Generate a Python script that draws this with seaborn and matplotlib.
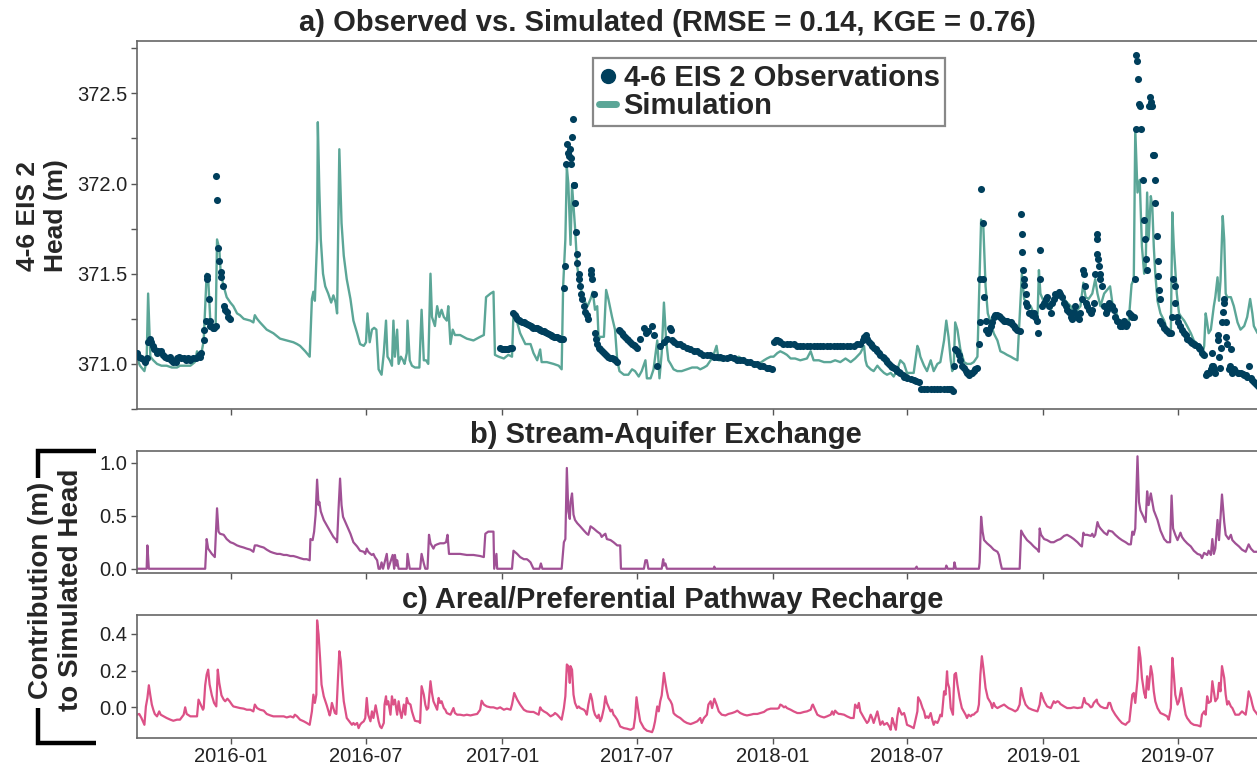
import numpy as np
import pandas as pd
import matplotlib
matplotlib.use("Agg")
import matplotlib.pyplot as plt
import matplotlib.dates as mdates
from matplotlib.lines import Line2D
from matplotlib.ticker import MultipleLocator, FormatStrFormatter
import seaborn as sns

# ---------------- data (day = days since START) ----------------
START = "2015-08-27"

sim = [(0, 371.03), (4, 370.99), (10, 370.96), (13, 371.02), (15, 371.39), (18, 371.04), (22, 371.02),
       (27, 371.00), (33, 370.99), (40, 370.99), (47, 370.98), (54, 370.98), (58, 370.99), (65, 370.99),
       (72, 370.99), (78, 371.01), (81, 371.07), (84, 371.04), (87, 371.06), (90, 371.13), (94, 371.50),
       (96, 371.48), (99, 371.23), (103, 371.21), (106, 371.19), (108, 371.69), (111, 371.64), (113, 371.50),
       (117, 371.43), (121, 371.37), (126, 371.34), (130, 371.32), (135, 371.28), (139, 371.27), (144, 371.25),
       (153, 371.24), (157, 371.23), (159, 371.27), (162, 371.25), (166, 371.23), (175, 371.19), (184, 371.17),
       (193, 371.14), (202, 371.13), (211, 371.12), (216, 371.11), (220, 371.10), (227, 371.07), (233, 371.04),
       (236, 371.36), (238, 371.40), (240, 371.35), (243, 371.69), (244, 372.34), (246, 371.97), (248, 371.69),
       (251, 371.50), (254, 371.43), (258, 371.39), (262, 371.34), (265, 371.38), (268, 371.34), (270, 371.28),
       (273, 372.19), (276, 371.78), (279, 371.60), (283, 371.47), (288, 371.36), (292, 371.24), (297, 371.17),
       (301, 371.11), (306, 371.10), (309, 371.12), (311, 371.28), (314, 371.12), (317, 371.19), (320, 371.20),
       (323, 371.19), (326, 370.97), (330, 370.94), (333, 371.06), (336, 371.24), (338, 371.04), (341, 371.02),
       (344, 370.99), (346, 371.24), (348, 371.04), (351, 371.19), (353, 371.00), (356, 371.04), (359, 371.02),
       (361, 371.00), (364, 371.06), (365, 371.24), (368, 371.02), (371, 370.99), (375, 370.98), (381, 370.98),
       (384, 371.30), (387, 371.02), (390, 371.02), (393, 371.00), (396, 371.50), (398, 371.26), (402, 371.21),
       (405, 371.32), (408, 371.26), (411, 371.30), (414, 371.26), (418, 371.24), (420, 371.32), (423, 371.11),
       (426, 371.19), (429, 371.16), (436, 371.16), (445, 371.14), (454, 371.13), (463, 371.15), (468, 371.16),
       (471, 371.37), (477, 371.39), (481, 371.40), (483, 371.05), (488, 371.04), (495, 371.03), (501, 371.05),
       (506, 371.04), (508, 371.28), (513, 371.23), (517, 371.17), (524, 371.11), (531, 371.11), (535, 371.06),
       (540, 371.02), (544, 371.08), (546, 371.01), (553, 371.01), (562, 371.00), (569, 370.99), (573, 370.97),
       (575, 371.43), (578, 371.69), (580, 372.09), (582, 372.00), (585, 371.66), (587, 371.99), (591, 371.76),
       (594, 371.54), (598, 371.43), (602, 371.37), (605, 371.34), (608, 371.32), (612, 371.36), (615, 371.40),
       (618, 371.30), (621, 371.32), (623, 371.13), (625, 371.15), (630, 371.15), (633, 371.41), (636, 371.36),
       (641, 371.26), (645, 371.19), (648, 371.02), (651, 370.96), (657, 370.94), (663, 370.94), (668, 370.97),
       (672, 370.96), (677, 370.93), (681, 370.96), (686, 371.02), (688, 370.92), (693, 370.92), (697, 370.97),
       (702, 371.13), (705, 370.92), (708, 371.06), (711, 371.34), (714, 371.13), (717, 371.02), (720, 371.00),
       (724, 370.97), (729, 370.96), (735, 370.96), (742, 370.97), (749, 370.98), (756, 370.98), (760, 370.97),
       (765, 370.98), (769, 370.99), (774, 371.02), (778, 371.05), (782, 371.10), (785, 371.02), (789, 371.02),
       (796, 371.03), (805, 371.02), (812, 371.04), (819, 371.02), (825, 371.01), (832, 371.01), (839, 371.00),
       (846, 371.02), (850, 371.03), (855, 371.04), (859, 371.04), (864, 371.06), (868, 371.07), (873, 371.06),
       (877, 371.05), (882, 371.03), (888, 371.03), (895, 371.02), (904, 371.03), (909, 371.07), (913, 371.02),
       (920, 371.02), (927, 371.01), (936, 371.01), (942, 371.02), (949, 371.01), (956, 371.03), (963, 371.01),
       (969, 371.03), (976, 371.06), (981, 371.10), (983, 371.02), (985, 370.99), (990, 370.97), (994, 370.96),
       (999, 370.99), (1003, 370.97), (1008, 370.95), (1012, 370.94), (1017, 370.95), (1021, 370.93),
       (1026, 370.97), (1030, 371.02), (1035, 371.00), (1039, 370.95), (1048, 370.95), (1053, 371.10),
       (1055, 371.08), (1057, 371.04), (1062, 370.99), (1066, 370.96), (1071, 371.02), (1075, 370.96),
       (1080, 371.00), (1084, 371.01), (1089, 371.13), (1092, 371.24), (1095, 371.15), (1098, 371.02),
       (1100, 370.96), (1102, 370.98), (1104, 371.23), (1107, 371.19), (1111, 371.08), (1116, 371.01),
       (1120, 371.00), (1125, 371.00), (1129, 371.01), (1134, 371.04), (1137, 371.50), (1139, 371.80),
       (1142, 371.76), (1145, 371.43), (1148, 371.28), (1152, 371.23), (1156, 371.17), (1161, 371.13),
       (1165, 371.07), (1170, 371.06), (1174, 371.05), (1179, 371.04), (1183, 371.03), (1188, 371.02),
       (1191, 371.26), (1194, 371.50), (1197, 371.36), (1201, 371.34), (1206, 371.32), (1210, 371.28),
       (1215, 371.24), (1217, 371.52), (1219, 371.39), (1224, 371.34), (1228, 371.36), (1233, 371.30),
       (1237, 371.34), (1242, 371.39), (1246, 371.39), (1251, 371.36), (1255, 371.34), (1260, 371.32),
       (1264, 371.28), (1269, 371.30), (1273, 371.32), (1277, 371.45), (1280, 371.37), (1284, 371.36),
       (1289, 371.39), (1293, 371.47), (1296, 371.39), (1300, 371.32), (1305, 371.39), (1309, 371.41),
       (1313, 371.43), (1316, 371.34), (1320, 371.30), (1325, 371.24), (1329, 371.23), (1334, 371.21),
       (1338, 371.23), (1342, 371.44), (1345, 371.47), (1347, 372.30), (1350, 371.95), (1353, 372.02),
       (1356, 371.65), (1359, 371.50), (1361, 371.54), (1363, 371.95), (1365, 371.69), (1368, 371.93),
       (1370, 371.87), (1372, 371.65), (1374, 371.50), (1377, 371.35), (1381, 371.28), (1386, 371.24),
       (1390, 371.19), (1395, 371.17), (1397, 371.84), (1399, 371.65), (1403, 371.39), (1406, 371.28),
       (1409, 371.26), (1413, 371.24), (1417, 371.21), (1422, 371.17), (1426, 371.13), (1431, 371.11),
       (1435, 371.10), (1437, 371.04), (1440, 371.10), (1442, 371.28), (1444, 371.23), (1446, 371.17),
       (1449, 371.19), (1453, 371.32), (1455, 371.37), (1458, 371.48), (1460, 371.35), (1462, 371.46),
       (1465, 371.82), (1467, 371.69), (1469, 371.39), (1471, 371.37), (1476, 371.37), (1480, 371.32),
       (1485, 371.23), (1489, 371.19), (1494, 371.21), (1498, 371.26), (1502, 371.36), (1505, 371.28),
       (1507, 371.21), (1512, 371.17)]

obs = [(0, 371.06), (3, 371.04), (6, 371.03), (9, 371.02), (11, 371.01), (13, 371.03), (15, 371.12),
       (17, 371.14), (19, 371.12), (21, 371.10), (23, 371.08), (27, 371.06), (29, 371.07), (32, 371.07),
       (35, 371.05), (38, 371.04), (41, 371.03), (44, 371.04), (46, 371.02), (49, 371.01), (52, 371.01),
       (54, 371.03), (57, 371.04), (60, 371.03), (63, 371.03), (66, 371.02), (69, 371.03), (72, 371.02),
       (76, 371.03), (80, 371.03), (83, 371.05), (85, 371.04), (87, 371.06), (90, 371.13), (91, 371.19),
       (93, 371.24), (94, 371.47), (95, 371.49), (97, 371.36), (98, 371.24), (99, 371.21), (100, 371.21),
       (102, 371.20), (104, 371.20), (106, 371.21), (107, 372.04), (108, 371.91), (109, 371.64), (111, 371.57),
       (113, 371.51), (114, 371.48), (116, 371.43), (117, 371.32), (119, 371.30), (121, 371.29), (123, 371.26),
       (126, 371.25),
       (490, 371.09), (493, 371.085), (495, 371.08), (497, 371.08), (499, 371.08), (501, 371.085),
       (503, 371.09), (506, 371.09), (508, 371.28), (510, 371.27), (512, 371.26),
       (513, 371.25), (515, 371.245), (517, 371.24), (520, 371.235), (522, 371.23), (524, 371.225),
       (526, 371.22), (529, 371.215), (531, 371.21), (533, 371.205), (535, 371.20), (538, 371.20),
       (540, 371.20), (542, 371.195), (544, 371.19), (547, 371.185), (549, 371.18), (551, 371.175),
       (553, 371.17), (556, 371.165), (558, 371.16), (560, 371.155), (562, 371.15), (565, 371.15),
       (567, 371.15), (569, 371.145), (571, 371.14), (573, 371.14),
       (575, 371.14), (576, 371.42), (578, 371.54), (579, 372.11), (580, 372.22), (581, 372.17), (583, 372.15),
       (584, 372.19), (585, 372.14), (586, 372.11), (587, 372.26), (588, 372.36), (589, 371.99), (590, 371.99),
       (591, 371.89), (593, 371.73), (594, 371.61), (594, 371.56), (596, 371.50), (597, 371.47), (598, 371.43),
       (599, 371.39), (601, 371.36), (603, 371.32), (605, 371.29), (607, 371.27), (609, 371.25), (612, 371.52),
       (613, 371.50), (614, 371.47), (616, 371.39), (618, 371.17), (620, 371.14), (621, 371.11), (623, 371.09),
       (625, 371.08), (627, 371.07), (630, 371.06), (633, 371.05), (636, 371.04), (638, 371.035),
       (641, 371.03), (643, 371.025), (645, 371.02),
       (648, 371.01), (650, 371.19), (652, 371.18), (654, 371.17), (656, 371.16), (659, 371.15),
       (661, 371.14), (663, 371.13), (665, 371.12), (668, 371.11), (670, 371.105), (672, 371.10),
       (675, 371.09), (679, 371.14), (684, 371.20), (687, 371.17), (690, 371.18), (695, 371.21), (697, 371.16),
       (702, 370.99), (706, 371.10), (711, 371.12), (715, 371.14), (719, 371.20), (721, 371.19), (722, 371.13),
       (724, 371.12), (728, 371.11), (733, 371.11), (737, 371.10), (742, 371.09), (746, 371.08),
       (751, 371.07), (755, 371.07), (760, 371.06), (764, 371.05), (769, 371.05), (773, 371.05),
       (778, 371.04), (782, 371.04), (787, 371.04), (791, 371.03), (796, 371.03), (800, 371.04),
       (805, 371.03), (809, 371.02), (814, 371.02), (818, 371.02), (823, 371.01), (827, 371.01),
       (832, 371.00), (836, 371.00), (841, 370.99), (845, 370.99), (850, 370.98), (853, 370.98),
       (857, 370.97), (859, 371.12), (862, 371.13), (864, 371.13), (866, 371.125), (868, 371.12),
       (872, 371.11), (877, 371.11), (881, 371.11), (886, 371.11), (890, 371.10),
       (895, 371.10), (899, 371.10), (904, 371.10), (908, 371.10), (913, 371.10), (917, 371.10),
       (922, 371.10), (926, 371.10), (931, 371.10), (935, 371.10), (940, 371.10), (944, 371.10),
       (949, 371.10), (953, 371.10), (958, 371.10), (962, 371.10), (967, 371.10), (971, 371.11),
       (976, 371.11), (979, 371.13), (981, 371.15), (983, 371.16), (985, 371.14), (988, 371.12),
       (990, 371.11), (992, 371.10),
       (994, 371.09), (997, 371.08), (999, 371.07), (1001, 371.06), (1003, 371.05), (1006, 371.04),
       (1008, 371.03), (1010, 371.02), (1012, 371.01), (1015, 371.00), (1017, 370.99),
       (1019, 370.985), (1021, 370.98), (1024, 370.97), (1026, 370.96), (1028, 370.955), (1030, 370.95),
       (1033, 370.94), (1035, 370.93), (1037, 370.925), (1039, 370.92), (1044, 370.915), (1048, 370.91),
       (1051, 370.905), (1055, 370.90), (1058, 370.86), (1062, 370.86), (1066, 370.86), (1071, 370.86),
       (1075, 370.86), (1080, 370.86), (1084, 370.86), (1089, 370.86), (1093, 370.86), (1096, 370.86),
       (1098, 370.86), (1101, 370.85), (1102, 370.99), (1104, 371.08), (1107, 371.07), (1109, 371.05),
       (1111, 371.02), (1113, 370.99), (1116, 370.98), (1118, 370.96), (1120, 370.95), (1122, 370.94),
       (1125, 370.95), (1127, 370.95), (1129, 370.96), (1131, 370.97), (1134, 370.98), (1136, 371.11),
       (1137, 371.23), (1138, 371.47), (1139, 371.97), (1141, 371.78), (1142, 371.47), (1143, 371.37),
       (1145, 371.24), (1146, 371.19), (1148, 371.17), (1149, 371.19), (1152, 371.21), (1154, 371.23),
       (1156, 371.26), (1158, 371.27), (1161, 371.27), (1163, 371.265), (1165, 371.26), (1167, 371.25),
       (1170, 371.24), (1172, 371.24), (1174, 371.24), (1176, 371.235), (1179, 371.23), (1181, 371.22),
       (1183, 371.21), (1185, 371.20), (1188, 371.19), (1191, 371.18), (1193, 371.83), (1194, 371.72), (1194, 371.62),
       (1196, 371.52), (1197, 371.47), (1197, 371.44), (1199, 371.39), (1200, 371.34), (1201, 371.32),
       (1203, 371.28), (1206, 371.28), (1208, 371.27), (1210, 371.28), (1212, 371.26), (1215, 371.24),
       (1216, 371.17), (1218, 371.63), (1219, 371.47), (1221, 371.32), (1224, 371.34), (1226, 371.36),
       (1228, 371.37), (1230, 371.32), (1233, 371.28), (1235, 371.34), (1237, 371.36), (1239, 371.39),
       (1242, 371.38), (1244, 371.40), (1246, 371.39), (1248, 371.37), (1251, 371.34), (1253, 371.32),
       (1255, 371.30), (1257, 371.29), (1260, 371.26), (1262, 371.25), (1264, 371.29), (1266, 371.32),
       (1269, 371.26), (1271, 371.25), (1273, 371.28), (1275, 371.36), (1277, 371.52), (1278, 371.50),
       (1279, 371.43), (1280, 371.34), (1282, 371.32), (1284, 371.30), (1287, 371.28), (1289, 371.30),
       (1291, 371.34), (1293, 371.50), (1295, 371.72), (1296, 371.69), (1296, 371.61), (1297, 371.58),
       (1298, 371.54), (1299, 371.50), (1300, 371.47), (1302, 371.43), (1305, 371.32), (1307, 371.28),
       (1309, 371.30), (1311, 371.34), (1314, 371.32), (1316, 371.32), (1318, 371.30), (1320, 371.26),
       (1323, 371.24), (1325, 371.23), (1327, 371.21), (1329, 371.21), (1332, 371.24), (1334, 371.21),
       (1336, 371.22), (1338, 371.28), (1341, 371.27), (1343, 371.26), (1345, 371.26), (1346, 371.47),
       (1348, 372.30), (1348, 372.71), (1350, 372.68), (1351, 372.58), (1352, 372.44), (1353, 372.43),
       (1355, 372.30), (1357, 372.02), (1359, 371.80), (1360, 371.69), (1361, 371.58), (1363, 371.52),
       (1365, 372.43), (1367, 372.48), (1368, 372.43), (1368, 372.45), (1370, 372.43), (1371, 372.16),
       (1372, 372.16), (1373, 372.02), (1374, 371.89), (1376, 371.71), (1377, 371.57), (1378, 371.49),
       (1379, 371.41), (1380, 371.36), (1381, 371.24), (1383, 371.22), (1386, 371.20), (1388, 371.19),
       (1390, 371.18), (1392, 371.17), (1395, 371.17), (1397, 371.26), (1398, 371.47), (1400, 371.43),
       (1401, 371.34), (1403, 371.26), (1404, 371.23), (1407, 371.21), (1410, 371.19), (1413, 371.17),
       (1415, 371.16), (1417, 371.14), (1420, 371.13), (1422, 371.12), (1424, 371.115), (1426, 371.11),
       (1428, 371.105), (1431, 371.10), (1433, 371.09), (1435, 371.08),
       (1437, 371.06), (1440, 371.05), (1442, 370.94), (1444, 370.95), (1446, 370.95), (1449, 370.97),
       (1450, 371.06), (1451, 370.99), (1452, 370.99), (1453, 370.97), (1455, 370.95), (1458, 371.16),
       (1459, 371.13), (1460, 371.04), (1461, 370.98), (1463, 371.09), (1464, 371.23), (1465, 371.29),
       (1467, 371.34), (1467, 371.36), (1469, 371.23), (1470, 371.15), (1471, 371.11), (1473, 370.97),
       (1475, 370.99), (1476, 371.08), (1477, 370.95), (1480, 370.97), (1482, 370.96), (1485, 370.95),
       (1487, 370.95), (1489, 370.95), (1492, 370.945), (1494, 370.94), (1496, 370.94), (1498, 370.93),
       (1500, 370.99), (1503, 370.92), (1505, 370.91), (1507, 370.90), (1510, 370.89), (1512, 370.88)]

stream = [(0, 0.0), (13, 0.0), (14, 0.22), (16, 0.0), (92, 0.0), (94, 0.28), (96, 0.19), (101, 0.14),
          (105, 0.11), (108, 0.57), (110, 0.35), (112, 0.33), (117, 0.32), (121, 0.28), (126, 0.25),
          (130, 0.24), (135, 0.22), (139, 0.21), (144, 0.20), (148, 0.19), (153, 0.18), (157, 0.16),
          (159, 0.22), (162, 0.22), (166, 0.21), (171, 0.20), (175, 0.18), (180, 0.16), (184, 0.15),
          (189, 0.14), (193, 0.14), (198, 0.13), (202, 0.13), (207, 0.12), (211, 0.12), (216, 0.11),
          (220, 0.10), (225, 0.09), (229, 0.09), (233, 0.08), (234, 0.28), (237, 0.27), (239, 0.35),
          (241, 0.51), (243, 0.84), (245, 0.60), (246, 0.63), (248, 0.54), (252, 0.46), (256, 0.41),
          (261, 0.35), (265, 0.30), (269, 0.27), (270, 0.25), (272, 0.57), (274, 0.85), (276, 0.60),
          (278, 0.49), (283, 0.41), (288, 0.33), (292, 0.25), (297, 0.21), (301, 0.17), (306, 0.16),
          (308, 0.14), (310, 0.19), (312, 0.16), (315, 0.14), (317, 0.13), (319, 0.14), (321, 0.11),
          (324, 0.08), (326, 0.0), (328, 0.0), (330, 0.06), (332, 0.0), (337, 0.14), (339, 0.0),
          (345, 0.13), (347, 0.0), (348, 0.13), (350, 0.03), (351, 0.08), (353, 0.0), (364, 0.0),
          (365, 0.14), (368, 0.0), (382, 0.0), (384, 0.14), (387, 0.05), (389, 0.0), (392, 0.0),
          (394, 0.32), (396, 0.24), (400, 0.19), (402, 0.22), (405, 0.23), (409, 0.24), (414, 0.24),
          (417, 0.25), (419, 0.32), (421, 0.14), (425, 0.14), (436, 0.14), (445, 0.13), (454, 0.13),
          (463, 0.12), (468, 0.11), (470, 0.33), (474, 0.35), (481, 0.35), (482, 0.0), (485, 0.14),
          (486, 0.0), (506, 0.0), (508, 0.17), (513, 0.14), (517, 0.11), (522, 0.09), (526, 0.09),
          (528, 0.08), (531, 0.06), (535, 0.0), (543, 0.0), (545, 0.05), (547, 0.0), (573, 0.0),
          (576, 0.25), (578, 0.28), (580, 0.95), (582, 0.54), (584, 0.47), (585, 0.63), (587, 0.71),
          (589, 0.51), (591, 0.46), (594, 0.43), (598, 0.40), (603, 0.36), (607, 0.33), (609, 0.32),
          (612, 0.40), (616, 0.38), (621, 0.35), (625, 0.33), (627, 0.30), (630, 0.32), (632, 0.33),
          (634, 0.28), (639, 0.27), (643, 0.25), (648, 0.22), (652, 0.22), (653, 0.0), (684, 0.0),
          (686, 0.08), (688, 0.08), (690, 0.0), (708, 0.0), (710, 0.09), (711, 0.03), (713, 0.05),
          (715, 0.0), (778, 0.0), (779, 0.02), (780, 0.0), (1050, 0.0), (1052, 0.02), (1053, 0.0),
          (1091, 0.0), (1092, 0.03), (1094, 0.0), (1102, 0.0), (1103, 0.06), (1105, 0.0), (1136, 0.0),
          (1137, 0.06), (1139, 0.49), (1141, 0.35), (1143, 0.27), (1147, 0.24), (1152, 0.21), (1156, 0.18),
          (1161, 0.16), (1163, 0.13), (1165, 0.06), (1167, 0.0), (1191, 0.0), (1193, 0.36), (1196, 0.32),
          (1201, 0.27), (1206, 0.24), (1210, 0.21), (1215, 0.18), (1217, 0.16), (1218, 0.38), (1220, 0.32),
          (1224, 0.28), (1228, 0.27), (1233, 0.25), (1237, 0.25), (1242, 0.27), (1246, 0.28), (1251, 0.31),
          (1255, 0.32), (1260, 0.30), (1264, 0.28), (1269, 0.25), (1273, 0.22), (1275, 0.21), (1277, 0.34),
          (1278, 0.32), (1282, 0.32), (1287, 0.31), (1289, 0.33), (1291, 0.30), (1293, 0.32), (1296, 0.44),
          (1298, 0.40), (1300, 0.38), (1305, 0.34), (1309, 0.32), (1311, 0.36), (1316, 0.35), (1320, 0.32),
          (1325, 0.29), (1329, 0.27), (1334, 0.25), (1338, 0.23), (1341, 0.23), (1343, 0.35), (1345, 0.32),
          (1347, 0.38), (1350, 1.06), (1352, 0.63), (1354, 0.55), (1358, 0.49), (1361, 0.44), (1363, 0.73),
          (1365, 0.60), (1368, 0.71), (1370, 0.63), (1372, 0.55), (1377, 0.46), (1381, 0.36), (1386, 0.28),
          (1390, 0.25), (1394, 0.25), (1396, 0.69), (1398, 0.38), (1401, 0.32), (1404, 0.27), (1408, 0.34),
          (1410, 0.30), (1413, 0.27), (1417, 0.24), (1422, 0.21), (1426, 0.17), (1431, 0.14), (1435, 0.13),
          (1437, 0.10), (1440, 0.15), (1442, 0.14), (1444, 0.13), (1446, 0.17), (1449, 0.13), (1451, 0.28),
          (1453, 0.14), (1455, 0.19), (1458, 0.46), (1460, 0.27), (1464, 0.70), (1467, 0.44), (1469, 0.32),
          (1473, 0.28), (1476, 0.32), (1478, 0.27), (1482, 0.24), (1487, 0.21), (1491, 0.18), (1496, 0.16),
          (1500, 0.23), (1503, 0.19), (1507, 0.16), (1512, 0.16)]

recharge = [(0, -0.040), (3, -0.036), (6, -0.058), (10, -0.095), (12, 0.005), (14, 0.050), (16, 0.120),
            (18, 0.065), (20, 0.015), (22, -0.013), (24, -0.036), (27, -0.049), (30, -0.022), (32, -0.040),
            (36, -0.049), (40, -0.058), (45, -0.067), (49, -0.073), (54, -0.067), (58, -0.067), (63, -0.040),
            (65, 0.000), (67, -0.036), (72, -0.049), (76, -0.049), (81, -0.049), (83, 0.042), (85, 0.024),
            (89, -0.013), (90, -0.004), (92, 0.120), (94, 0.178), (96, 0.205), (98, 0.124), (101, 0.065),
            (104, 0.024), (107, 0.005), (109, 0.205), (111, 0.133), (114, 0.065), (117, 0.042), (119, 0.033),
            (122, 0.047), (125, 0.033), (128, 0.015), (130, 0.005), (135, 0.000), (139, -0.004), (144, -0.007),
            (148, -0.013), (153, -0.013), (157, -0.022), (159, 0.015), (162, -0.004), (166, -0.013),
            (171, -0.018), (175, -0.036), (180, -0.044), (184, -0.049), (189, -0.049), (193, -0.049),
            (198, -0.049), (202, -0.055), (207, -0.049), (211, -0.055), (213, -0.040), (216, -0.049),
            (220, -0.067), (225, -0.076), (229, -0.085), (233, -0.095), (236, -0.022), (238, 0.069),
            (240, 0.024), (242, 0.069), (243, 0.473), (245, 0.396), (247, 0.269), (249, 0.124), (252, 0.060),
            (256, 0.011), (260, -0.044), (261, -0.031), (263, 0.024), (265, -0.004), (267, -0.031),
            (269, -0.036), (271, 0.142), (273, 0.305), (275, 0.251), (277, 0.124), (279, 0.033), (283, -0.058),
            (288, -0.085), (290, -0.095), (292, -0.085), (294, -0.095), (297, -0.085), (299, -0.113),
            (301, -0.095), (303, -0.085), (306, -0.076), (308, -0.058), (310, 0.051), (312, -0.040),
            (315, -0.076), (317, -0.022), (319, -0.058), (322, 0.011), (324, -0.031), (326, -0.076),
            (328, -0.104), (330, -0.113), (333, -0.085), (334, 0.015), (336, 0.060), (337, 0.015), (339, 0.033),
            (342, -0.040), (344, 0.060), (346, 0.015), (348, 0.042), (351, -0.040), (353, 0.033), (355, -0.022),
            (357, -0.058), (360, 0.015), (362, -0.040), (364, 0.051), (366, 0.024), (369, 0.015), (371, -0.022),
            (373, -0.049), (375, -0.073), (378, -0.076), (380, -0.076), (382, -0.085), (384, 0.115),
            (387, 0.069), (389, 0.015), (391, -0.013), (393, -0.004), (396, 0.142), (398, 0.078), (400, 0.033),
            (402, 0.015), (405, -0.013), (407, 0.051), (409, 0.024), (411, 0.033), (414, -0.004), (416, -0.013),
            (418, -0.031), (423, -0.040), (427, -0.004), (429, -0.031), (432, -0.040), (436, -0.040),
            (441, -0.044), (445, -0.040), (450, -0.044), (454, -0.040), (459, -0.036), (463, -0.013),
            (465, 0.036), (468, 0.015), (472, 0.005), (477, 0.000), (481, 0.000), (486, -0.007), (490, 0.000),
            (495, -0.013), (499, -0.007), (504, -0.013), (506, 0.015), (509, 0.078), (513, 0.042), (517, 0.015),
            (522, -0.013), (526, -0.022), (531, -0.025), (535, -0.025), (540, -0.036), (542, -0.040),
            (544, 0.000), (546, -0.013), (549, -0.022), (553, -0.031), (558, -0.049), (562, -0.040),
            (564, -0.031), (567, -0.040), (571, -0.058), (573, -0.067), (576, -0.004), (578, 0.060),
            (580, 0.233), (582, 0.224), (584, 0.133), (585, 0.224), (587, 0.205), (589, 0.069), (591, 0.024),
            (594, -0.004), (596, 0.005), (598, -0.004), (603, -0.013), (605, -0.022), (607, -0.040),
            (609, 0.015), (612, 0.073), (614, 0.042), (616, -0.013), (618, -0.040), (621, -0.058),
            (623, -0.040), (625, -0.076), (627, -0.058), (630, -0.004), (632, 0.060), (634, 0.024),
            (636, 0.005), (639, -0.022), (641, -0.013), (643, -0.040), (645, -0.049), (648, -0.067),
            (652, -0.104), (657, -0.113), (661, -0.116), (666, -0.122), (670, -0.113), (672, -0.058),
            (674, 0.055), (676, -0.004), (679, -0.076), (684, -0.113), (688, -0.127), (692, -0.131),
            (695, -0.135), (697, -0.113), (699, -0.076), (702, 0.005), (704, -0.022), (706, 0.033),
            (708, 0.065), (711, 0.187), (713, 0.133), (715, 0.087), (717, 0.051), (720, 0.033), (722, 0.015),
            (724, -0.031), (726, -0.040), (729, -0.049), (733, -0.058), (738, -0.076), (742, -0.085),
            (747, -0.091), (751, -0.085), (756, -0.076), (760, -0.058), (762, -0.085), (765, -0.058),
            (769, -0.040), (771, 0.015), (774, 0.033), (776, -0.004), (779, 0.047), (782, 0.015),
            (785, -0.022), (789, -0.040), (794, -0.044), (798, -0.036), (803, -0.031), (807, -0.025),
            (810, -0.018), (814, -0.031), (819, -0.040), (823, -0.044), (828, -0.040), (832, -0.036),
            (837, -0.036), (841, -0.031), (846, -0.025), (850, -0.013), (855, -0.007), (859, -0.007),
            (864, -0.007), (866, -0.004), (868, 0.015), (870, 0.011), (873, 0.000), (875, 0.005), (877, -0.004),
            (882, -0.013), (886, -0.022), (891, -0.031), (895, -0.031), (900, -0.025), (904, -0.022),
            (909, -0.013), (911, 0.011), (912, 0.015), (914, -0.004), (918, -0.040), (922, -0.049),
            (927, -0.055), (931, -0.049), (936, -0.040), (938, -0.022), (940, -0.040), (942, -0.018),
            (945, -0.031), (947, -0.036), (949, -0.036), (954, -0.040), (958, -0.049), (963, -0.058),
            (967, -0.058), (969, 0.015), (972, -0.004), (974, 0.024), (976, -0.022), (981, -0.058),
            (985, -0.085), (987, -0.076), (990, -0.040), (992, -0.058), (994, -0.085), (999, -0.022),
            (1001, -0.058), (1003, -0.095), (1006, -0.076), (1008, -0.095), (1012, -0.085), (1015, -0.104),
            (1017, -0.122), (1019, -0.058), (1021, -0.085), (1024, -0.122), (1026, -0.049), (1028, -0.004),
            (1030, -0.022), (1032, -0.040), (1035, -0.031), (1037, -0.058), (1039, -0.095), (1044, -0.104),
            (1048, -0.113), (1053, -0.022), (1054, 0.055), (1057, 0.033), (1060, -0.004), (1062, -0.022),
            (1064, -0.058), (1066, -0.049), (1068, -0.058), (1071, -0.031), (1073, -0.067), (1075, -0.095),
            (1077, -0.076), (1080, -0.085), (1082, -0.067), (1084, -0.040), (1086, -0.049), (1089, 0.087),
            (1091, 0.069), (1093, 0.196), (1094, 0.133), (1096, 0.105), (1098, -0.004), (1101, -0.040),
            (1102, 0.087), (1103, 0.178), (1105, 0.187), (1107, 0.124), (1110, 0.051), (1113, -0.004),
            (1118, -0.040), (1120, -0.058), (1122, -0.040), (1125, -0.049), (1127, -0.040), (1129, -0.040),
            (1131, -0.031), (1134, -0.022), (1136, 0.015), (1138, 0.178), (1140, 0.278), (1142, 0.215),
            (1145, 0.105), (1148, 0.051), (1152, 0.024), (1154, -0.004), (1156, 0.024), (1158, 0.005),
            (1161, -0.004), (1165, 0.005), (1170, 0.015), (1173, 0.005), (1176, -0.004), (1181, -0.013),
            (1185, -0.022), (1188, -0.013), (1191, 0.015), (1193, 0.105), (1196, 0.051), (1199, 0.015),
            (1203, -0.004), (1208, -0.013), (1215, -0.022), (1218, 0.015), (1220, 0.078), (1224, 0.033),
            (1228, 0.005), (1233, -0.004), (1235, 0.015), (1237, 0.033), (1239, 0.024), (1242, 0.033),
            (1244, 0.029), (1246, 0.018), (1251, 0.005), (1255, -0.004), (1260, -0.004), (1264, 0.000),
            (1269, -0.004), (1275, 0.000), (1278, 0.051), (1280, 0.024), (1284, 0.015), (1287, 0.000),
            (1289, 0.005), (1291, 0.024), (1295, 0.042), (1296, 0.024), (1300, 0.005), (1305, -0.004),
            (1309, -0.004), (1311, 0.024), (1313, 0.024), (1316, -0.013), (1320, -0.040), (1325, -0.067),
            (1329, -0.085), (1334, -0.095), (1336, -0.085), (1339, -0.076), (1343, 0.069), (1345, 0.078),
            (1347, 0.024), (1350, 0.151), (1352, 0.327), (1354, 0.269), (1356, 0.160), (1359, 0.078),
            (1361, 0.051), (1363, 0.169), (1365, 0.096), (1368, 0.224), (1370, 0.178), (1372, 0.087),
            (1374, 0.033), (1377, -0.004), (1381, -0.031), (1386, -0.040), (1390, -0.049), (1392, -0.067),
            (1395, -0.004), (1397, 0.269), (1399, 0.178), (1401, 0.069), (1404, 0.015), (1406, 0.033),
            (1409, 0.105), (1413, 0.005), (1415, -0.040), (1417, -0.058), (1422, -0.085), (1426, -0.095),
            (1431, -0.098), (1435, -0.104), (1437, -0.040), (1440, -0.022), (1442, -0.040), (1444, 0.060),
            (1446, 0.024), (1449, 0.033), (1451, 0.142), (1453, 0.087), (1455, 0.033), (1458, 0.051),
            (1460, 0.133), (1462, 0.087), (1464, 0.224), (1467, 0.160), (1469, 0.069), (1471, 0.015),
            (1473, 0.033), (1476, 0.005), (1478, -0.004), (1482, -0.040), (1487, -0.040), (1491, -0.022),
            (1496, -0.040), (1498, 0.015), (1500, 0.087), (1503, 0.051), (1505, 0.015), (1507, -0.013),
            (1512, -0.040)]

TITLE_A = "a) Observed vs. Simulated (RMSE = 0.14, KGE = 0.76)"
TITLE_B = "b) Stream-Aquifer Exchange"
TITLE_C = "c) Areal/Preferential Pathway Recharge"
YLABEL_A = "4-6 EIS 2\nHead (m)"
YLABEL_BC = "Contribution (m)\nto Simulated Head"
LEGEND_LABELS = ["4-6 EIS 2 Observations", "Simulation"]
X_RANGE = ("2015-08-27", "2019-10-23")

OBS_C = "#003f5c"
SIM_C = "#5ba697"
STREAM_C = "#a05195"
RECH_C = "#dc5187"


def to_frame(points, col):
    d, v = zip(*points)
    return pd.DataFrame({"date": pd.Timestamp(START) + pd.to_timedelta(list(d), unit="D"),
                         col: list(v)})


sim_df = to_frame(sim, "head")
obs_df = to_frame(obs, "head")
stream_df = to_frame(stream, "contrib")
rech_df = to_frame(recharge, "contrib")

# ---------------- styling ----------------
sns.set_style("ticks")
plt.rcParams["font.family"] = ["Liberation Sans", "DejaVu Sans"]

W, H = 1257, 766
fig = plt.figure(figsize=(W / 100, H / 100), dpi=100)


def px_axes(left, top, right, bottom):
    return fig.add_axes([left / W, 1 - bottom / H, (right - left) / W, (bottom - top) / H])


ax_a = px_axes(137, 41, 1262, 409)
ax_b = px_axes(137, 451, 1262, 573)
ax_c = px_axes(137, 615, 1262, 737.5)

sns.lineplot(data=sim_df, x="date", y="head", ax=ax_a, color=SIM_C, lw=1.7,
             estimator=None, sort=False, zorder=2)
sns.scatterplot(data=obs_df, x="date", y="head", ax=ax_a, color=OBS_C, s=26,
                linewidth=0, zorder=3)
sns.lineplot(data=stream_df, x="date", y="contrib", ax=ax_b, color=STREAM_C, lw=1.6,
             estimator=None, sort=False)
sns.lineplot(data=rech_df, x="date", y="contrib", ax=ax_c, color=RECH_C, lw=1.6,
             estimator=None, sort=False)

ax_a.set_ylim(370.75, 372.79)
ax_b.set_ylim(-0.04, 1.11)
ax_c.set_ylim(-0.164, 0.502)

ax_a.yaxis.set_major_locator(MultipleLocator(0.5))
ax_a.yaxis.set_minor_locator(MultipleLocator(0.25))
ax_a.yaxis.set_major_formatter(FormatStrFormatter("%.1f"))
ax_b.set_yticks([0.0, 0.5, 1.0])
ax_b.yaxis.set_major_formatter(FormatStrFormatter("%.1f"))
ax_c.set_yticks([0.0, 0.2, 0.4])
ax_c.yaxis.set_major_formatter(FormatStrFormatter("%.1f"))

for ax in (ax_a, ax_b, ax_c):
    ax.set_xlim(pd.Timestamp(X_RANGE[0]), pd.Timestamp(X_RANGE[1]))
    ax.xaxis.set_major_locator(mdates.MonthLocator(bymonth=(1, 7)))
    ax.xaxis.set_major_formatter(mdates.DateFormatter("%Y-%m"))
    ax.set_xlabel("")
    ax.set_ylabel("")
    ax.tick_params(axis="both", which="both", direction="out", length=4, width=1,
                   color="#555555", labelsize=14.5, labelcolor="#222222", pad=3)
    for sp in ax.spines.values():
        sp.set_visible(True)
        sp.set_color("#666666")
        sp.set_linewidth(1.2)
    ax.set_facecolor("white")

ax_a.tick_params(axis="x", labelbottom=False)
ax_b.tick_params(axis="x", labelbottom=False)

# titles
fig.text(667 / W, 1 - 31 / H, TITLE_A, ha="center", va="baseline", fontsize=21, fontweight="bold")
fig.text(666 / W, 1 - 443 / H, TITLE_B, ha="center", va="baseline", fontsize=21, fontweight="bold")
fig.text(673 / W, 1 - 608 / H, TITLE_C, ha="center", va="baseline", fontsize=21, fontweight="bold")

# y labels
fig.text(42 / W, 1 - 216 / H, YLABEL_A, rotation=90, ha="center", va="center",
         multialignment="center", fontsize=19, fontweight="bold")
fig.text(56 / W, 1 - 590 / H, YLABEL_BC, rotation=90, ha="center", va="center",
         multialignment="center", fontsize=20, fontweight="bold")

# bracket
fig.add_artist(Line2D([96 / W, 38 / W, 38 / W], [1 - 451 / H, 1 - 451 / H, 1 - 478 / H],
                      transform=fig.transFigure, color="black", lw=3.2,
                      solid_joinstyle="miter", solid_capstyle="butt"))
fig.add_artist(Line2D([38 / W, 38 / W, 96 / W], [1 - 708 / H, 1 - 743 / H, 1 - 743 / H],
                      transform=fig.transFigure, color="black", lw=3.2,
                      solid_joinstyle="miter", solid_capstyle="butt"))

# legend
handles = [Line2D([0], [0], marker="o", ls="none", color=OBS_C, markersize=10),
           Line2D([0], [0], color=SIM_C, lw=5)]
leg = ax_a.legend(handles, LEGEND_LABELS, loc="upper left",
                  bbox_to_anchor=(593 / W, 1 - 58 / H), bbox_transform=fig.transFigure,
                  prop={"weight": "bold", "size": 21}, frameon=True, fancybox=False,
                  edgecolor="#888888", framealpha=1, borderpad=0.2, handlelength=0.6,
                  handletextpad=0.25, labelspacing=0.0, borderaxespad=0)
leg.get_frame().set_linewidth(1.6)

fig.savefig("out.png", dpi=100)
